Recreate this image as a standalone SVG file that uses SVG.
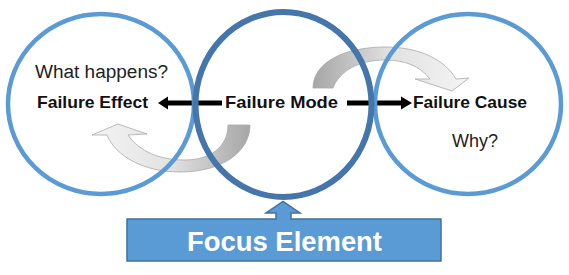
<svg xmlns="http://www.w3.org/2000/svg" width="569" height="275" viewBox="0 0 569 275">
  <defs>
    <style>
      .ring { fill: none; stroke: #5b9bd5; stroke-width: 4.5; }
      .ring-focus { fill: none; stroke: #4475ab; stroke-width: 6; }
      .lbl { font-family: "Liberation Sans", Arial, sans-serif; font-weight: bold; font-size: 17px; fill: #111; }
      .q { font-family: "Liberation Sans", Arial, sans-serif; font-size: 18px; fill: #222; }
      .focus-text { font-family: "Liberation Sans", Arial, sans-serif; font-weight: bold; font-size: 27px; fill: #ffffff; }
      .blk { fill: #000; }
      .gray { stroke: #a9a9a9; stroke-width: 0.8; }
    </style>
    <linearGradient id="gLow" x1="92" y1="0" x2="250" y2="0" gradientUnits="userSpaceOnUse">
      <stop offset="0" stop-color="#f4f4f4"/>
      <stop offset="0.5" stop-color="#e2e2e2"/>
      <stop offset="1" stop-color="#a6a6a6"/>
    </linearGradient>
    <linearGradient id="gUp" x1="313" y1="0" x2="469" y2="0" gradientUnits="userSpaceOnUse">
      <stop offset="0" stop-color="#a6a6a6"/>
      <stop offset="0.5" stop-color="#e2e2e2"/>
      <stop offset="1" stop-color="#f4f4f4"/>
    </linearGradient>
  </defs>

  <g id="connectors">
    <!-- curved gray arrow: Failure Mode -> Failure Effect -->
    <path class="gray" fill="url(#gLow)" d="M 250,125 C 250,152 222,172 180,172 C 145,172 116,157 107,135 L 92,135 L 118,124 L 147,134 L 128,135 C 140,152 160,160 185,160 C 210,160 228,147 228,125 Z"/>
    <!-- curved gray arrow: Failure Mode -> Failure Cause -->
    <path class="gray" fill="url(#gUp)" d="M 313,88 C 313,62 345,47 385,47 C 420,47 445,60 456,79 L 469,78 L 452,91 L 415,79 L 430,79 C 420,66 405,60 385,60 C 360,60 340,70 333,88 Z"/>
    <!-- black arrow to Failure Effect -->
    <path class="blk" d="M 222,100.5 L 168,100.5 L 168,96.5 L 158,103 L 168,109.5 L 168,105.5 L 222,105.5 Z"/>
    <!-- black arrow to Failure Cause -->
    <path class="blk" d="M 347,100.5 L 401,100.5 L 401,96.5 L 412,103 L 401,109.5 L 401,105.5 L 347,105.5 Z"/>
  </g>

  <g id="node-effect">
    <ellipse class="ring" cx="101" cy="104" rx="93" ry="90"/>
    <text class="q" x="35" y="78" textLength="133" lengthAdjust="spacingAndGlyphs">What happens?</text>
    <text class="lbl" x="37" y="108" textLength="111" lengthAdjust="spacingAndGlyphs">Failure Effect</text>
  </g>

  <g id="node-cause">
    <ellipse class="ring" cx="468" cy="104" rx="93" ry="90"/>
    <text class="lbl" x="413" y="108" textLength="114" lengthAdjust="spacingAndGlyphs">Failure Cause</text>
    <text class="q" x="452" y="147" textLength="46" lengthAdjust="spacingAndGlyphs">Why?</text>
  </g>

  <g id="node-mode">
    <ellipse class="ring-focus" cx="283.5" cy="104.5" rx="88" ry="92.5"/>
    <text class="lbl" x="225" y="108" textLength="113" lengthAdjust="spacingAndGlyphs">Failure Mode</text>
  </g>

  <g id="node-focus">
    <path fill="#5b9bd5" stroke="#41719c" stroke-width="1.5" d="M 127,219 L 276,219 L 276,213 L 266,213 L 283,201.5 L 300,213 L 291,213 L 291,219 L 441,219 L 441,261 L 127,261 Z"/>
    <text class="focus-text" x="187" y="251" textLength="195" lengthAdjust="spacingAndGlyphs">Focus Element</text>
  </g>
</svg>
